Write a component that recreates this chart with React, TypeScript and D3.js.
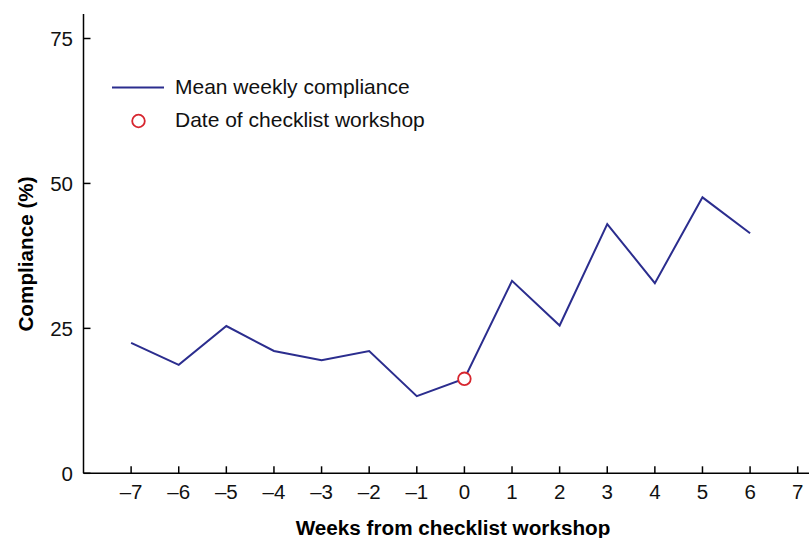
import React from 'react';
import * as d3 from 'd3';

// weeks relative to the checklist workshop (week 0)
const weeks = [-7, -6, -5, -4, -3, -2, -1, 0, 1, 2, 3, 4, 5, 6];
const compliance = [22.5, 18.7, 25.4, 21.1, 19.5, 21.1, 13.3, 16.3, 33.2, 25.5, 43.0, 32.8, 47.6, 41.4];
const workshopWeek = 0;
const xTicks = [-7, -6, -5, -4, -3, -2, -1, 0, 1, 2, 3, 4, 5, 6, 7];
const yTicks = [0, 25, 50, 75];

const W = 809;
const H = 538;
const FONT = '"Liberation Sans", Arial, sans-serif';
const LINE = '#2b2d8e';
const RED = '#d7262f';

const App = () => {
  const x = d3.scaleLinear().domain([-8, 7]).range([83.5, 797.7]);
  const y = d3.scaleLinear().domain([0, 75]).range([473.3, 38.5]);
  const data = weeks.map((w, i) => ({ w, v: compliance[i] }));
  const line = d3
    .line<{ w: number; v: number }>()
    .x((d) => x(d.w))
    .y((d) => y(d.v));
  const fmt = d3.format('d');
  const ws = data.find((d) => d.w === workshopWeek)!;

  return (
    <svg width={W} height={H} style={{ position: 'absolute', left: 0, top: 0 }} fontFamily={FONT}>
      <rect width={W} height={H} fill="#fff" />
      {/* axes */}
      <line x1={x(-8)} x2={x(-8)} y1={14} y2={y(0)} stroke="#000" strokeWidth={1.5} />
      <line x1={x(-8)} x2={W} y1={y(0)} y2={y(0)} stroke="#000" strokeWidth={1.5} />
      {yTicks.map((t) => (
        <g key={t}>
          <line x1={x(-8)} x2={x(-8) + 7} y1={y(t)} y2={y(t)} stroke="#000" strokeWidth={1.5} />
          <text x={73} y={y(t)} dy="0.36em" textAnchor="end" fontSize={20.5} fill="#111">
            {fmt(t)}
          </text>
        </g>
      ))}
      {xTicks.map((t) => (
        <g key={t}>
          <line x1={x(t)} x2={x(t)} y1={y(0)} y2={y(0) - 7} stroke="#000" strokeWidth={1.5} />
          <text x={x(t)} y={499} textAnchor="middle" fontSize={20.5} fill="#111">
            {t < 0 ? '\u2013' + Math.abs(t) : t}
          </text>
        </g>
      ))}
      <text x={453} y={535} textAnchor="middle" fontSize={20.7} fontWeight="bold" fill="#000">
        Weeks from checklist workshop
      </text>
      <text
        transform={`translate(33, ${(175 + 333) / 2}) rotate(-90)`}
        textAnchor="middle"
        fontSize={20.7}
        fontWeight="bold"
        fill="#000"
      >
        Compliance (%)
      </text>

      {/* series */}
      <path d={line(data) || ''} fill="none" stroke={LINE} strokeWidth={2} strokeLinejoin="miter" />
      <circle cx={x(ws.w)} cy={y(ws.v)} r={6.3} fill="#fff" stroke={RED} strokeWidth={1.8} />

      {/* legend */}
      <line x1={112} x2={164} y1={87.5} y2={87.5} stroke={LINE} strokeWidth={2} />
      <text x={175} y={94} fontSize={21} fill="#111">
        Mean weekly compliance
      </text>
      <circle cx={138.5} cy={121} r={6.3} fill="#fff" stroke={RED} strokeWidth={1.8} />
      <text x={175} y={127} fontSize={21} fill="#111">
        Date of checklist workshop
      </text>
    </svg>
  );
};

export default App;
